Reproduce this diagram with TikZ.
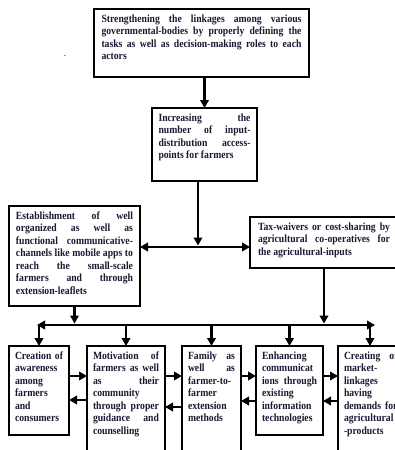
\documentclass[tikz,border=0pt]{standalone}
\usepackage{fontspec}
\usetikzlibrary{arrows.meta}
\newfontfamily\boxfont{Liberation Serif}[FakeStretch=0.88]
\definecolor{textc}{RGB}{25,25,50}
\hyphenpenalty=10000
\exhyphenpenalty=10000
\tolerance=10000
\hbadness=10000

\begin{document}
\begin{tikzpicture}[x=1pt, y=-1pt,
  box/.style = {draw, line width=2pt, anchor=north west, outer sep=0pt, align=justify,
    inner ysep=5pt, text height=8pt, text=textc,
    font=\boxfont\bfseries\fontsize{11}{12.5}\selectfont},
  arr/.style = {line width=2.6pt, -{Triangle[length=8pt,width=8.5pt]}},
  arrs/.style = {line width=2.6pt, {Triangle[length=8pt,width=8.5pt]}-{Triangle[length=8pt,width=8.5pt]}}]
		\useasboundingbox (0,0) rectangle (395,450);
		\clip (0,0) rectangle (395,450);
		\node (dot) at (65,56) {.};
		\node[box, text width=200pt, inner xsep=7.5pt, text depth=50pt] (link) at (94,9)
			{Strengthening the linkages among various\linebreak governmental-bodies by properly defining the\linebreak tasks as well as decision-making roles to each\linebreak actors};
		\node[box, text width=92pt, inner xsep=6.5pt, text depth=55pt] (acc) at (152,108)
			{Increasing the\linebreak number of input-\linebreak distribution access-\linebreak points for farmers};
		\node[box, text width=117pt, inner xsep=7pt, text depth=82pt] (comm) at (9,206)
			{Establishment of well\linebreak organized as well as\linebreak functional communicative-\linebreak channels like mobile apps to\linebreak reach the small-scale\linebreak farmers and through\linebreak extension-leaflets};
		\node[box, text width=132pt, inner xsep=8pt, text depth=33pt] (tax) at (250,217)
			{Tax-waivers or cost-sharing by\linebreak agricultural co-operatives for\linebreak the agricultural-inputs};
		\node[box, text width=48pt, inner xsep=6pt, text depth=71pt] (aware) at (9,346)
			{Creation of\linebreak awareness\linebreak among\linebreak farmers\linebreak and\linebreak consumers};
		\node[box, text width=66pt, inner xsep=6pt, text depth=102pt] (motiv) at (87,346)
			{Motivation of\linebreak farmers as well\linebreak as their\linebreak community\linebreak through proper\linebreak guidance and\linebreak counselling};
		\node[box, text width=47pt, inner xsep=6pt, text depth=102pt] (family) at (182,346)
			{Family as\linebreak well as\linebreak farmer-to-\linebreak farmer\linebreak extension\linebreak methods};
		\node[box, text width=55pt, inner xsep=6pt, text depth=71pt] (ict) at (256,346)
			{Enhancing\linebreak communicat\linebreak ions through\linebreak existing\linebreak information\linebreak technologies};
		\node[box, text width=53.5pt, inner xsep=6pt, text depth=102pt] (market) at (338,346)
			{Creating of\linebreak market-\linebreak linkages\linebreak having\linebreak demands for\linebreak agricultural\linebreak -products};
		\coordinate (split) at (198,247);
		\coordinate (bar) at (0,325);
		\draw[arr] (acc.north |- link.south) -- (acc.north);
		\draw[arr, shorten >=1.5pt] (acc.south -| split) -- (split);
		\draw[arrs] (comm.east |- split) -- (tax.west |- split);
		\draw[arr, shorten >=1.5pt] (comm.south) -- (comm.south |- bar);
		\draw[arr, shorten >=1.5pt] (tax.south) -- (tax.south |- bar);
		\draw[arrs] (37,325) -- (375,325);
		\foreach \n in {aware, motiv, family, ict}
			\draw[arr] (\n.north |- bar) -- (\n.north);
		\draw[arr] (370,325) -- (market.north -| 370,0);
		\draw[arr] (aware.east |- 0,376) -- (motiv.west |- 0,376);
		\draw[arr] (motiv.west |- 0,400) -- (aware.east |- 0,400);
		\draw[arr] (motiv.east |- 0,376) -- (family.west |- 0,376);
		\draw[arr] (family.west |- 0,407) -- (motiv.east |- 0,407);
		\draw[arr] (family.east |- 0,376) -- (ict.west |- 0,376);
		\draw[arr] (ict.west |- 0,401) -- (family.east |- 0,401);
		\draw[arr] (ict.east |- 0,376) -- (market.west |- 0,376);
		\draw[arr] (market.west |- 0,401) -- (ict.east |- 0,401);
\end{tikzpicture}
\end{document}
